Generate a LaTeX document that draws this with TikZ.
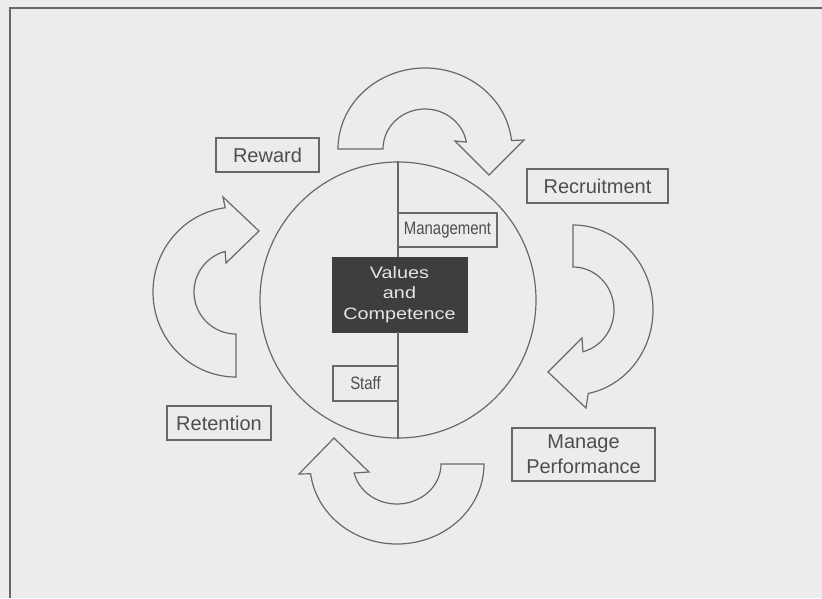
\documentclass[tikz,border=0pt]{standalone}
\usepackage{fontspec}
\setmainfont{Liberation Sans}
\newfontfamily\narrowfont[FakeStretch=0.83]{Liberation Sans}
\newfontfamily\widefont[FakeStretch=1.2]{Liberation Sans}
\usetikzlibrary{calc}
\definecolor{bg}{HTML}{ECECEC}
\definecolor{ln}{HTML}{686868}
\definecolor{txt}{HTML}{4E4E4E}
\definecolor{dark}{HTML}{3E3E3E}
\definecolor{lt}{HTML}{E4E4E4}
\tikzset{
  label/.style={draw=ln, line width=1.3pt, text=txt, inner sep=0pt, font=\fontsize{20}{25}\selectfont, align=center},
  inbox/.style={draw=ln, line width=1.3pt, text=txt, inner sep=0pt, font=\narrowfont\fontsize{18}{20}\selectfont},
  core/.style={fill=dark, draw=dark, text=lt, inner sep=0pt, align=center, font=\widefont\fontsize{16.5}{20.5}\selectfont},
  cyc/.style={draw=ln, line width=1.2pt, line join=miter},
  ring/.style={draw=ln, line width=1.2pt, circle, inner sep=0pt}
}
\begin{document}
\begin{tikzpicture}[x=1pt,y=-1pt]
\useasboundingbox (0,0) rectangle (822,598);
\fill[bg] (0,0) rectangle (822,598);
\draw[ln, line width=1.3pt] (822,8) -- (10,8) -- (10,598);

% central circle
\node[ring, minimum size=276pt] (circ) at (398,300) {};
\node[core, minimum width=135pt, minimum height=75pt] (vals) at (399.5,294.5) {Values\\and\\Competence};
\draw[ln, line width=1.3pt] (circ.north) -- (circ.north |- vals.north);
\draw[ln, line width=1.3pt] (vals.south -| circ.south) -- (circ.south);
\node[inbox, minimum width=99pt, minimum height=34pt] (mgmt) at (447.5,230) {Management};
\node[inbox, minimum width=65pt, minimum height=35pt] (staff) at (365.5,383.5) {Staff};

% outer labels
\node[label, minimum width=103pt, minimum height=34pt] (reward) at (267.5,155) {Reward};
\node[label, minimum width=141pt, minimum height=34pt] (recruit) at (597.5,186) {Recruitment};
\node[label, minimum width=104pt, minimum height=34pt] (retain) at (219,423) {Retention};
\node[label, minimum width=143pt, minimum height=53pt] (perf) at (583.5,454.5) {Manage\\Performance};

% cycle arrows
\coordinate (tc) at (425,149);
\draw[cyc] ($(tc)+(180:87 and 81)$) arc[start angle=180, end angle=354, x radius=87, y radius=81]
  -- (524,140) -- (489,175) -- (455,141)
  -- ($(tc)+(350:42 and 40)$) arc[start angle=350, end angle=180, x radius=42, y radius=40] -- cycle;

\coordinate (rc) at (573,310);
\draw[cyc] ($(rc)+(270:80 and 85)$) arc[start angle=270, end angle=439, x radius=80, y radius=85]
  -- (586,408) -- (548,372) -- (582,338)
  -- ($(rc)+(436:41 and 43)$) arc[start angle=436, end angle=270, x radius=41, y radius=43] -- cycle;

\coordinate (bc) at (397,464);
\draw[cyc] ($(bc)+(0:87 and 80)$) arc[start angle=0, end angle=173, x radius=87, y radius=80]
  -- (299,474) -- (334,438) -- (369,472)
  -- ($(bc)+(167:44 and 40)$) arc[start angle=167, end angle=0, x radius=44, y radius=40] -- cycle;

\coordinate (lc) at (236,292);
\draw[cyc] ($(lc)+(90:83 and 85)$) arc[start angle=90, end angle=262.5, x radius=83, y radius=85]
  -- (223,197) -- (259,231) -- (226,263)
  -- ($(lc)+(255:42 and 42)$) arc[start angle=255, end angle=90, x radius=42, y radius=42] -- cycle;
\end{tikzpicture}
\end{document}
